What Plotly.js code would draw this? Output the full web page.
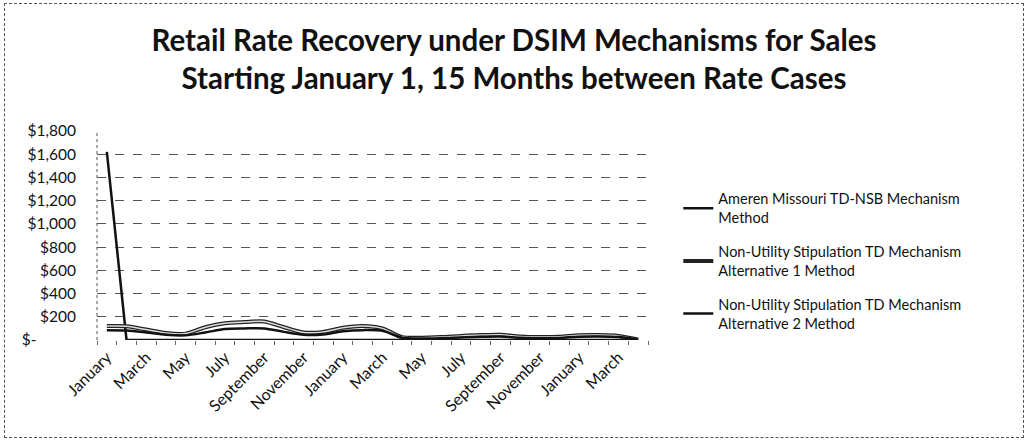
<!DOCTYPE html>
<html>
<head>
<meta charset="utf-8">
<script src="https://cdn.plot.ly/plotly-3.0.1.min.js"></script>
<style>
  html, body { margin: 0; padding: 0; background: #fff; }
  #wrap { position: absolute; left: 4px; top: 3px; width: 1018px; height: 433px; border: 1px dashed #555; }
  #chart { position: absolute; left: -5px; top: -4px; width: 1028px; height: 440px; }
</style>
</head>
<body>
<div id="wrap"><div id="chart"></div></div>
<script>
// Months (28 categories: Jan year 1 .. Apr year 3)
const months = ["January","February","March","April","May","June","July","August","September","October","November","December",
                "January","February","March","April","May","June","July","August","September","October","November","December",
                "January","February","March","April"];
const ameren = [1620,0,0,0,0,0,0,0,0,0,0,0,0,0,0,0,0,0,0,0,0,0,0,0,0,0,0,0];
const alt1   = [120,118,90,60,55,110,145,155,160,110,65,70,105,120,100,25,20,25,35,42,45,30,25,28,40,42,35,5];
const alt2   = [85,82,65,45,40,65,95,100,100,70,45,48,75,85,80,20,12,15,22,28,30,20,15,18,28,30,25,3];
const seriesNames = ["Ameren Missouri TD-NSB Mechanism<br>Method",
                     "Non-Utility Stipulation TD Mechanism<br>Alternative 1 Method",
                     "Non-Utility Stipulation TD Mechanism<br>Alternative 2 Method"];
const yTicks = [0,200,400,600,800,1000,1200,1400,1600,1800];
const yTickText = ["$-<span style='color:#ffffff'>1,800</span>","$200","$400","$600","$800","$1,000","$1,200","$1,400","$1,600","$1,800"];

const idx = months.map((m,i)=>i);
const labelIdx = idx.filter(i => i % 2 === 0);
const labelText = labelIdx.map(i => months[i]);

const traces = [
  {x: idx, y: ameren, name: seriesNames[0], mode: 'lines', line: {color: '#111', width: 2.5, shape: 'linear'}, legendgroup: 'a'},
  {x: idx, y: alt1, name: seriesNames[1], mode: 'lines', line: {color: '#222', width: 4, shape: 'spline', smoothing: 0.8}, legendgroup: 'b'},
  {x: idx, y: alt1, name: seriesNames[1], mode: 'lines', line: {color: '#ddd', width: 1.5, shape: 'spline', smoothing: 0.8}, showlegend: false, legendgroup: 'b', hoverinfo: 'skip'},
  {x: idx, y: alt2, name: seriesNames[2], mode: 'lines', line: {color: '#111', width: 2.5, shape: 'spline', smoothing: 0.8}, legendgroup: 'c'}
];

const font = "Lato, 'Open Sans', sans-serif";
const layout = {
  width: 1028, height: 440,
  margin: {l: 97, r: 380, t: 131, b: 100},
  paper_bgcolor: 'rgba(0,0,0,0)', plot_bgcolor: '#fff',
  font: {family: font, color: '#111', size: 14},
  title: {
    text: '<b>Retail Rate Recovery under DSIM Mechanisms for Sales<br>Starting January 1, 15 Months between Rate Cases</b>',
    x: 0.5, xref: 'container', xanchor: 'center',
    y: 0.884, yref: 'container', yanchor: 'middle',
    font: {family: font, size: 29.5, color: '#111'}
  },
  xaxis: {
    range: [-0.5, 27.5], tickmode: 'array', tickvals: labelIdx, ticktext: labelText,
    tickangle: -45, ticks: '', showgrid: false, zeroline: false, showline: false,
    ticklabelstandoff: 4,
    tickfont: {family: font, size: 16, color: '#111'},
    minor: {tickmode: 'linear', tick0: -0.5, dtick: 1, ticks: 'outside', ticklen: 4, tickcolor: '#666', showgrid: false}
  },
  yaxis: {
    range: [0, 1800], tickmode: 'array', tickvals: yTicks, ticktext: yTickText,
    showgrid: true, gridcolor: '#555', griddash: 'dash', gridwidth: 1,
    zeroline: false, showline: false, ticks: '', ticklen: 0, ticklabelstandoff: 20,
    tickfont: {family: font, size: 15.5, color: '#111'}
  },
  shapes: [
    {type: 'line', xref: 'paper', yref: 'paper', x0: 0, x1: 0, y0: 0, y1: 1, line: {color: '#555', width: 1, dash: 'dot'}}
  ],
  legend: {
    x: 1.055, xanchor: 'left', y: 0.752, yanchor: 'top',
    traceorder: 'grouped', tracegroupgap: 12,
    font: {family: font, size: 14.5, color: '#111'},
    bgcolor: 'rgba(0,0,0,0)'
  },
  showlegend: true
};

Plotly.newPlot('chart', traces, layout, {displayModeBar: false, staticPlot: true});
</script>
</body>
</html>
